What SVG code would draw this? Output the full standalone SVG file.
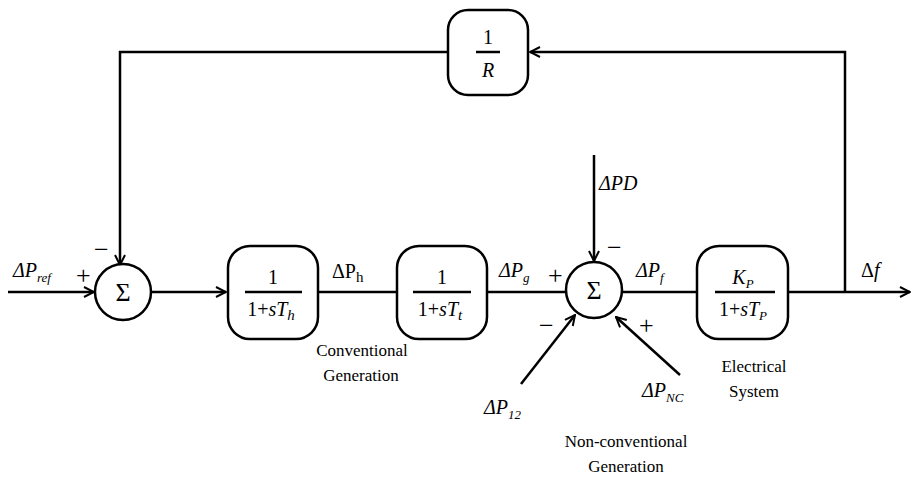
<svg xmlns="http://www.w3.org/2000/svg" width="912" height="480" viewBox="0 0 912 480">
<defs>
<marker id="ah" viewBox="0 0 12 12" refX="11" refY="6" markerWidth="12" markerHeight="12" markerUnits="userSpaceOnUse" orient="auto">
<path d="M1,1 L11,6 L1,11" fill="none" stroke="#000" stroke-width="2"/>
</marker>
<style>
.ln{fill:none;stroke:#000;stroke-width:2.5}
.bx{fill:#fff;stroke:#000;stroke-width:2.5}
text{font-family:"Liberation Serif","Times New Roman","DejaVu Serif",serif;fill:#000}
.m{font-style:italic}
.s{font-size:26px}
.sg{font-size:26px}
.lb{font-size:17px}
</style>
</defs>
<rect width="912" height="480" fill="#fff"/>
<g id="connectors">
<path class="ln" d="M448,52 H120 V265" marker-end="url(#ah)"/>
<path class="ln" d="M845,292 V52 H530" marker-end="url(#ah)"/>
<path class="ln" d="M8,292 H94" marker-end="url(#ah)"/>
<path class="ln" d="M151,292 H226" marker-end="url(#ah)"/>
<path class="ln" d="M318,292 H397"/>
<path class="ln" d="M487,292 H565"/>
<path class="ln" d="M594,155 V261" marker-end="url(#ah)"/>
<path class="ln" d="M521,384 L575,315" marker-end="url(#ah)"/>
<path class="ln" d="M680,375 L616,317" marker-end="url(#ah)"/>
<path class="ln" d="M622,292 H697"/>
<path class="ln" d="M788,292 H910" marker-end="url(#ah)"/>
</g>
<g id="sum1">
<circle class="bx" cx="123" cy="292" r="28"/>
<text class="sg" x="123" y="301" text-anchor="middle">Σ</text>
</g>
<g id="sum2">
<circle class="bx" cx="594" cy="290" r="28"/>
<text class="sg" x="594" y="299" text-anchor="middle">Σ</text>
</g>
<g id="R">
<rect class="bx" x="448" y="10" width="80" height="85" rx="20"/>
<text x="488" y="44" font-size="20" text-anchor="middle">1</text>
<path class="ln" d="M476,52 H500" stroke-width="2"/>
<text class="m" x="488" y="77" font-size="20" text-anchor="middle">R</text>
</g>
<g id="Th">
<rect class="bx" x="228" y="246" width="90" height="93" rx="22"/>
<text x="273" y="284" font-size="20" text-anchor="middle">1</text>
<path class="ln" d="M245,292 H302" stroke-width="2"/>
<text x="271" y="316" font-size="20" text-anchor="middle">1+<tspan font-style="italic">sT</tspan><tspan font-style="italic" font-size="15" dy="4">h</tspan></text>
</g>
<g id="Tt">
<rect class="bx" x="397" y="246" width="90" height="93" rx="22"/>
<text x="442" y="284" font-size="20" text-anchor="middle">1</text>
<path class="ln" d="M413,292 H471" stroke-width="2"/>
<text x="440" y="316" font-size="20" text-anchor="middle">1+<tspan font-style="italic">sT</tspan><tspan font-style="italic" font-size="15" dy="4">t</tspan></text>
</g>
<g id="Tp">
<rect class="bx" x="697" y="246" width="91" height="93" rx="22"/>
<text class="m" x="743" y="284" font-size="20" text-anchor="middle">K<tspan font-size="13" dy="4">P</tspan></text>
<path class="ln" d="M715,292 H775" stroke-width="2"/>
<text x="743" y="316" font-size="20" text-anchor="middle">1+<tspan font-style="italic">sT</tspan><tspan font-style="italic" font-size="13" dy="4">P</tspan></text>
</g>
<g id="labels">
<text class="m" x="13" y="277" font-size="20">ΔP<tspan font-size="13" dy="5">ref</tspan></text>
<text class="s" x="76" y="284">+</text>
<text class="s" x="94" y="258">−</text>
<text x="332" y="278" font-size="20">ΔP<tspan font-size="15" dy="4">h</tspan></text>
<text class="lb" x="362" y="356" text-anchor="middle">Conventional</text>
<text class="lb" x="361" y="381" text-anchor="middle">Generation</text>
<text class="m" x="499" y="277" font-size="20">ΔP<tspan font-size="13" dy="5">g</tspan></text>
<text class="s" x="548" y="284">+</text>
<text class="m" x="599" y="190" font-size="20">ΔPD</text>
<text class="s" x="607" y="256">−</text>
<text class="m" x="636" y="277" font-size="20">ΔP<tspan font-size="13" dy="5">f</tspan></text>
<text class="s" x="539" y="334">−</text>
<text class="s" x="639" y="334">+</text>
<text class="m" x="484" y="414" font-size="20">ΔP<tspan font-size="13" dy="5">12</tspan></text>
<text class="m" x="642" y="397" font-size="20">ΔP<tspan font-size="13" dy="5">NC</tspan></text>
<text class="lb" x="754" y="372" text-anchor="middle">Electrical</text>
<text class="lb" x="754" y="397" text-anchor="middle">System</text>
<text class="lb" x="626" y="447" text-anchor="middle">Non-conventional</text>
<text class="lb" x="626" y="472" text-anchor="middle">Generation</text>
<text x="861" y="277" font-size="20">Δ<tspan font-style="italic">f</tspan></text>
</g>
</svg>
